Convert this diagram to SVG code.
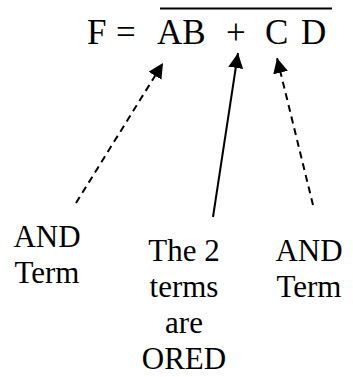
<svg xmlns="http://www.w3.org/2000/svg" width="353" height="377" viewBox="0 0 353 377">
<style>
text{font-family:"Liberation Serif","Times New Roman",serif;fill:#000}
.f{font-size:35px}
.l{font-size:31px;text-anchor:middle}
.c{stroke:#000;stroke-width:2;fill:none}
.d{stroke-dasharray:7,5}
</style>
<defs>
<marker id="ah" viewBox="0 0 10 10" refX="10" refY="5" markerWidth="15" markerHeight="15" markerUnits="userSpaceOnUse" orient="auto">
<path d="M0,0 L10,5 L0,10 z" fill="#000"/>
</marker>
</defs>
<g id="formula">
<text class="f" x="87" y="44">F</text>
<text class="f" x="116" y="44">=</text>
<text class="f" x="157" y="44">AB</text>
<text class="f" x="226" y="44">+</text>
<text class="f" x="265" y="44">C</text>
<text class="f" x="301" y="44">D</text>
<line x1="160" y1="8.5" x2="332" y2="8.5" stroke="#000" stroke-width="2"/>
</g>
<g id="connectors">
<line class="c d" x1="76" y1="203" x2="163" y2="63" marker-end="url(#ah)"/>
<line class="c" x1="213" y1="217" x2="238" y2="53" marker-end="url(#ah)"/>
<line class="c d" x1="313" y1="205" x2="277" y2="58" marker-end="url(#ah)"/>
</g>
<g id="left-label">
<text class="l" x="47" y="247">AND</text>
<text class="l" x="47" y="283">Term</text>
</g>
<g id="middle-label">
<text class="l" x="184" y="261">The 2</text>
<text class="l" x="184" y="297">terms</text>
<text class="l" x="184" y="333">are</text>
<text class="l" x="184" y="369">ORED</text>
</g>
<g id="right-label">
<text class="l" x="309" y="261">AND</text>
<text class="l" x="309" y="297">Term</text>
</g>
</svg>
